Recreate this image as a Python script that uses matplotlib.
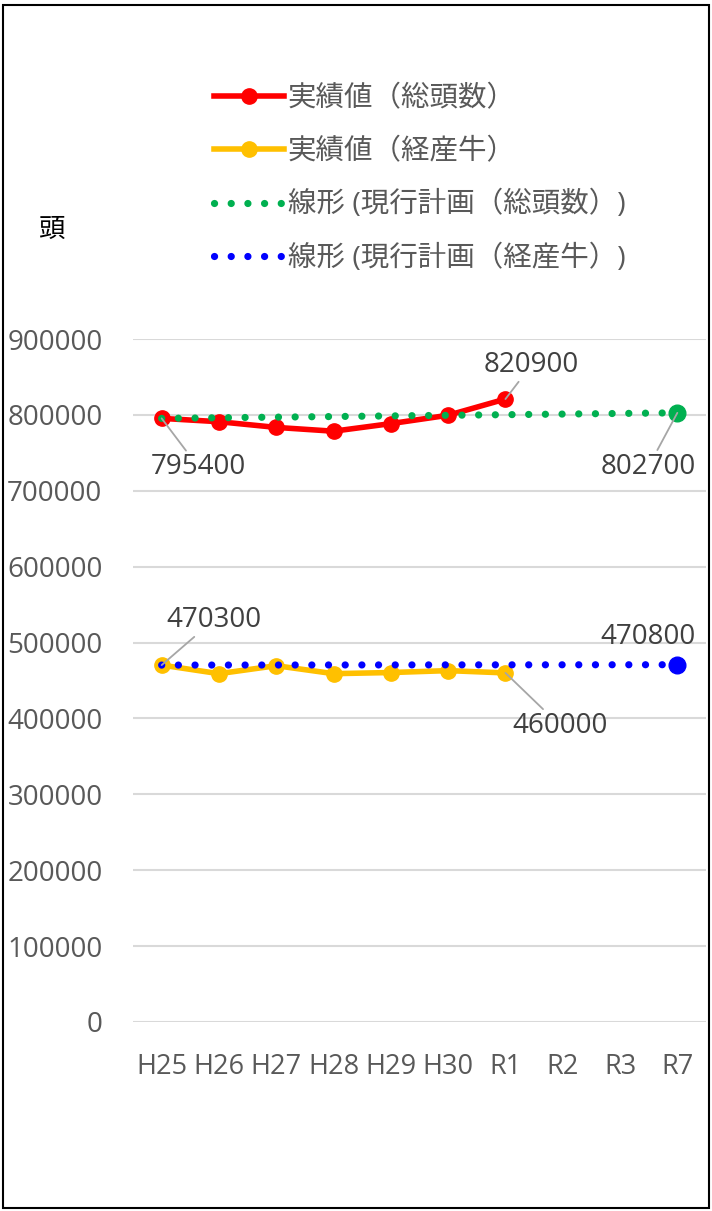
import matplotlib
matplotlib.use("Agg")
import matplotlib.pyplot as plt
import matplotlib.patches as patches
import numpy as np

plt.rcParams['font.family'] = ['Open Sans', 'Noto Sans CJK JP', 'DejaVu Sans']

years = ['H25', 'H26', 'H27', 'H28', 'H29', 'H30', 'R1', 'R2', 'R3', 'R7']
total_actual = [795400, 791000, 783500, 778500, 788500, 799500, 820900]
cows_actual = [470300, 459000, 469500, 459000, 460500, 463000, 460000]
plan_idx = [0, 9]
plan_total = [795400, 802700]
plan_cows = [470300, 470800]

lbl_total = '実績値（総頭数）'
lbl_cows = '実績値（経産牛）'
lbl_trend_total = '線形 (現行計画（総頭数）)'
lbl_trend_cows = '線形 (現行計画（経産牛）)'

RED = '#ff0000'
ORANGE = '#ffc000'
GREEN = '#00b050'
BLUE = '#0000ff'
GRAY = '#595959'

fig = plt.figure(figsize=(7.12, 12.11), dpi=100)
ax = fig.add_axes([133/712, 189/1211, 573/712, 683/1211])

x = np.arange(len(years))
xa = x[:len(total_actual)]

ax.plot(xa, total_actual, color=RED, lw=4, marker='o', ms=11, zorder=3, label=lbl_total)
ax.plot(xa, cows_actual, color=ORANGE, lw=4, marker='o', ms=11, zorder=3, label=lbl_cows)

# trend lines (linear fit of plan points)
dots = (0, (0.01, 2.3))
pt = np.polyfit(plan_idx, plan_total, 1)
pc = np.polyfit(plan_idx, plan_cows, 1)
ax.plot(x, np.polyval(pt, x), color=GREEN, lw=5.2, ls=dots, dash_capstyle='round', zorder=4,
        label=lbl_trend_total)
ax.plot(x, np.polyval(pc, x), color=BLUE, lw=5.2, ls=dots, dash_capstyle='round', zorder=4,
        label=lbl_trend_cows)
ax.plot(plan_idx[1:], plan_total[1:], 'o', color=GREEN, ms=12, zorder=5)
ax.plot(plan_idx[1:], plan_cows[1:], 'o', color=BLUE, ms=12, zorder=5)

# data labels: (x, y, dx, dy, leader)
labs = [
    (0, total_actual[0], 37, -49, True),
    (6, total_actual[6], 26, 34, True),
    (9, plan_total[1], -29, -54, True),
    (0, cows_actual[0], 52, 45, True),
    (9, plan_cows[1], -29, 28, False),
    (6, cows_actual[6], 55, -53, True),
]
for lx, ly, dx, dy, leader in labs:
    ap = dict(arrowstyle='-', color='#a6a6a6', lw=1.3, shrinkA=0, shrinkB=0) if leader else None
    ax.annotate(str(ly), (lx, ly), xytext=(dx, dy), textcoords='offset pixels',
                ha='center', va='center', fontsize=20, color='#404040',
                arrowprops=ap, zorder=6)

ax.set_xlim(-0.5, 9.5)
ax.set_ylim(0, 900000)
ax.set_yticks(np.arange(0, 900001, 100000))
ax.set_yticklabels([str(v) for v in range(0, 900001, 100000)])
ax.set_xticks(x)
ax.set_xticklabels(years)
ax.grid(axis='y', color='#d9d9d9', lw=1.5)
ax.set_axisbelow(True)
for s in ax.spines.values():
    s.set_visible(False)
ax.tick_params(axis='y', length=0, pad=22, labelsize=20, labelcolor=GRAY)
ax.tick_params(axis='x', length=0, pad=22, labelsize=19.5, labelcolor=GRAY)

fig.text(51/712, 1 - 230/1211, '頭', ha='center', va='center', fontsize=19, color='black')

leg = fig.legend(loc='upper left', bbox_to_anchor=(214/712, 1 - 85/1211), bbox_transform=fig.transFigure,
                 frameon=False, fontsize=20.5, handlelength=2.45, handletextpad=0.15,
                 labelspacing=0.88, borderpad=0, borderaxespad=0)
for t in leg.get_texts():
    t.set_color(GRAY)

fig.patches.append(patches.Rectangle((3/712, 3/1211), 706/712, 1203/1211, transform=fig.transFigure,
                                     fill=False, edgecolor='black', lw=1.5))

fig.savefig('out.png', dpi=100)
